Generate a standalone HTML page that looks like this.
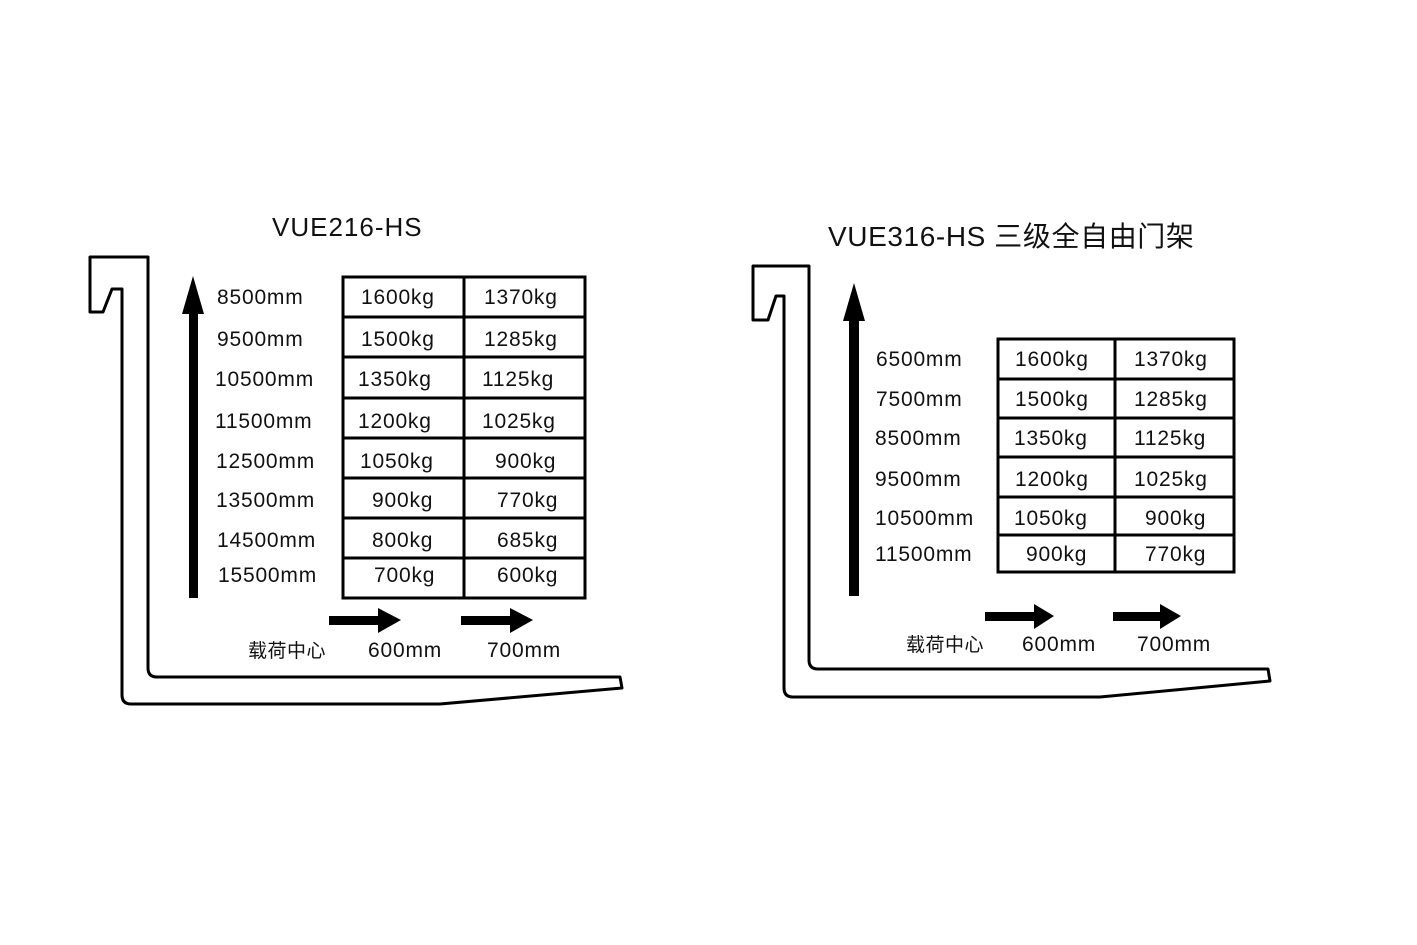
<!DOCTYPE html>
<html><head><meta charset="utf-8"><style>
html,body{margin:0;padding:0;background:#fff;}
svg{display:block;}
text{font-family:"Liberation Sans","Noto Sans CJK SC",sans-serif;fill:#111;}
</style></head><body>
<svg width="1417" height="945" viewBox="0 0 1417 945" xmlns="http://www.w3.org/2000/svg">
<g fill="none" stroke="#000" stroke-width="3" stroke-linejoin="round">
<path d="M90,312 L90,257 L148,257 L148,668 Q148,677 157,677 L620,677 L622,688 L440,704 L131,704 Q122,704 122,695 L122,289 L112,289 L103,312 Z"/>
<path d="M753,320 L753,266 L809,266 L809,660 Q809,669 818,669 L1268,669 L1270,681 L1100,697 L793,697 Q784,697 784,688 L784,296 L776,296 L768,320 Z"/>
</g>
<g fill="none" stroke="#000" stroke-width="3">
<rect x="343" y="277" width="242" height="321"/>
<line x1="464" y1="277" x2="464" y2="598"/>
<line x1="343" y1="317" x2="585" y2="317"/><line x1="343" y1="357" x2="585" y2="357"/>
<line x1="343" y1="398" x2="585" y2="398"/><line x1="343" y1="438" x2="585" y2="438"/>
<line x1="343" y1="478" x2="585" y2="478"/><line x1="343" y1="518" x2="585" y2="518"/>
<line x1="343" y1="558" x2="585" y2="558"/>
<rect x="998" y="339" width="236" height="233"/>
<line x1="1115" y1="339" x2="1115" y2="572"/>
<line x1="998" y1="379" x2="1234" y2="379"/><line x1="998" y1="418" x2="1234" y2="418"/>
<line x1="998" y1="457" x2="1234" y2="457"/><line x1="998" y1="497" x2="1234" y2="497"/>
<line x1="998" y1="535" x2="1234" y2="535"/>
</g>
<g fill="#000">
<rect x="189" y="310" width="9" height="288"/><polygon points="193,276 182,314 204,314"/>
<rect x="329" y="616" width="50" height="9"/><polygon points="378,608 378,633 401,620"/>
<rect x="461" y="616" width="50" height="9"/><polygon points="510,608 510,633 533,620"/>
<rect x="849" y="318" width="10" height="278"/><polygon points="854,283 843,321 865,321"/>
<rect x="985" y="612" width="50" height="9"/><polygon points="1034,604 1034,629 1054,616"/>
<rect x="1113" y="612" width="48" height="9"/><polygon points="1160,604 1160,629 1181,616"/>
</g>
<text x="272" y="236" font-size="26" letter-spacing="1">VUE216-HS</text>
<text x="828" y="246" font-size="28" letter-spacing="0.6">VUE316-HS 三级全自由门架</text>
<g font-size="21" letter-spacing="0.8">
<text x="217" y="304">8500mm</text><text x="217" y="346">9500mm</text>
<text x="215" y="386">10500mm</text><text x="215" y="428">11500mm</text>
<text x="216" y="468">12500mm</text><text x="216" y="507">13500mm</text>
<text x="217" y="547">14500mm</text><text x="218" y="582">15500mm</text>
<text x="361" y="304">1600kg</text><text x="484" y="304">1370kg</text>
<text x="361" y="346">1500kg</text><text x="484" y="346">1285kg</text>
<text x="358" y="386">1350kg</text><text x="482" y="386">1125kg</text>
<text x="358" y="428">1200kg</text><text x="482" y="428">1025kg</text>
<text x="360" y="468">1050kg</text><text x="495" y="468">900kg</text>
<text x="372" y="507">900kg</text><text x="497" y="507">770kg</text>
<text x="372" y="547">800kg</text><text x="497" y="547">685kg</text>
<text x="374" y="582">700kg</text><text x="497" y="582">600kg</text>
<text x="248" y="657" font-size="19" letter-spacing="0.5">载荷中心</text>
<text x="368" y="657">600mm</text><text x="487" y="657">700mm</text>

<text x="876" y="366">6500mm</text><text x="876" y="406">7500mm</text>
<text x="875" y="445">8500mm</text><text x="875" y="486">9500mm</text>
<text x="875" y="525">10500mm</text><text x="875" y="561">11500mm</text>
<text x="1015" y="366">1600kg</text><text x="1134" y="366">1370kg</text>
<text x="1015" y="406">1500kg</text><text x="1134" y="406">1285kg</text>
<text x="1014" y="445">1350kg</text><text x="1134" y="445">1125kg</text>
<text x="1015" y="486">1200kg</text><text x="1134" y="486">1025kg</text>
<text x="1014" y="525">1050kg</text><text x="1145" y="525">900kg</text>
<text x="1026" y="561">900kg</text><text x="1145" y="561">770kg</text>
<text x="906" y="651" font-size="19" letter-spacing="0.5">载荷中心</text>
<text x="1022" y="651">600mm</text><text x="1137" y="651">700mm</text>
</g>
</svg>
</body></html>
